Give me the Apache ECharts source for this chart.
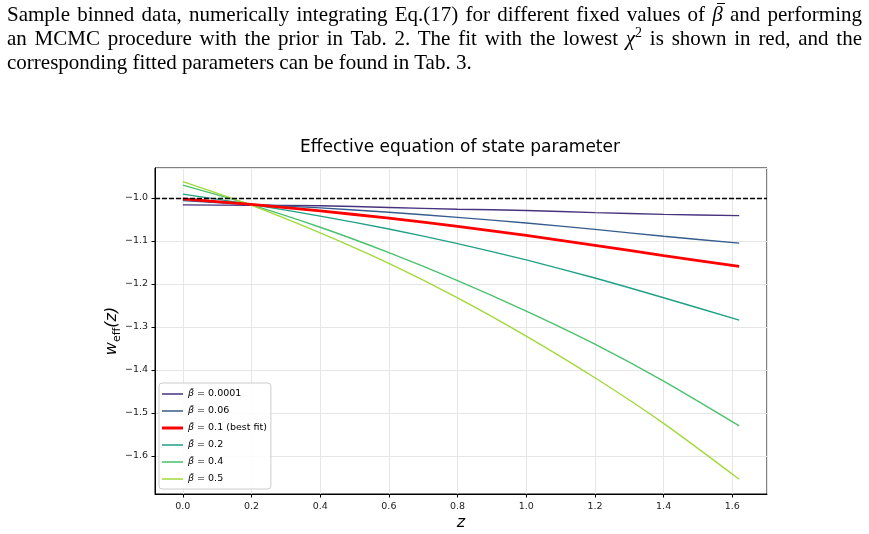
<!DOCTYPE html>
<html>
<head>
<meta charset="utf-8">
<script src="https://cdn.jsdelivr.net/npm/echarts@6/dist/echarts.min.js"></script>
<style>
  html, body { margin: 0; padding: 0; background: #fff; }
  #chart { position: absolute; left: 0; top: 0; width: 869px; height: 534px; }
  .cap {
    position: absolute; left: 7px; width: 855px;
    font-family: 'Liberation Serif', 'DejaVu Serif', serif;
    font-size: 21px; line-height: 24px; color: #000;
    text-align: justify; text-align-last: justify;
  }
  .cap.last { text-align-last: left; }
  .bb { position: relative; }
  .bb span { position: absolute; left: 5px; top: 1px; width: 8px; height: 1px; background: #000; }
</style>
</head>
<body>
<div id="chart"></div>
<div class="cap" style="top:2px">Sample binned data, numerically integrating Eq.(17) for different fixed values of <i class="bb">β<span></span></i> and performing</div>
<div class="cap" style="top:26px">an MCMC procedure with the prior in Tab. 2. The fit with the lowest <i>χ</i><sup style="font-size:14px;line-height:0">2</sup> is shown in red, and the</div>
<div class="cap last" style="top:50px">corresponding fitted parameters can be found in Tab. 3.</div>
<script>
// 数据 (z, w_eff)
var zVals = [0, 0.2, 0.4, 0.6, 0.8, 1.0, 1.2, 1.4, 1.62];
var betaLabels = ['0.0001', '0.06', '0.1 (best fit)', '0.2', '0.4', '0.5'];
var wBeta0001 = [-1.016, -1.017, -1.018, -1.022, -1.026, -1.029, -1.034, -1.038, -1.041];
var wBeta006 = [-1.006, -1.015, -1.023, -1.033, -1.045, -1.058, -1.073, -1.089, -1.105];
var wBeta01 = [-1.002, -1.015, -1.030, -1.047, -1.066, -1.087, -1.110, -1.134, -1.159];
var wBeta02 = [-0.991, -1.015, -1.042, -1.072, -1.106, -1.144, -1.186, -1.232, -1.284];
var wBeta04 = [-0.970, -1.016, -1.068, -1.127, -1.192, -1.263, -1.340, -1.426, -1.530];
var wBeta05 = [-0.962, -1.017, -1.081, -1.152, -1.232, -1.321, -1.418, -1.524, -1.654];
var wRef = -1.0;

var allW = [wBeta0001, wBeta006, wBeta01, wBeta02, wBeta04, wBeta05];
var colors = ['#46337e', '#365c8d', '#ff0000', '#1fa187', '#4ac16d', '#a0da39'];
var widths = [1.4, 1.4, 2.8, 1.4, 1.4, 1.4];

function pairs(ys) {
  return zVals.map(function (z, i) { return [z, ys[i]]; });
}

function tickFmt(v) {
  var r = Math.round(v * 10) / 10;
  if (Math.abs(v - r) > 1e-6) return '';
  return r.toFixed(1).replace('-', '\u2212');
}

// 图例线条图标 (细 / 粗)
var thinIcon = 'path://M0,0h0.001v10h-0.001z M0,4.3h21v1.4h-21z';
var thickIcon = 'path://M0,0h0.001v10h-0.001z M0,3.6h21v2.8h-21z';

var chart = echarts.init(document.getElementById('chart'));

var series = allW.map(function (ys, i) {
  return {
    name: 'β̄ = ' + betaLabels[i],
    type: 'line',
    data: pairs(ys),
    showSymbol: false,
    symbol: 'none',
    smooth: 0.25,
    z: i === 2 ? 4 : 3,
    lineStyle: { color: colors[i], width: widths[i] },
    itemStyle: { color: colors[i] }
  };
});
// 参考线 w = -1
series[5].markLine = {
  silent: true,
  symbol: 'none',
  label: { show: false },
  lineStyle: { color: '#000', width: 1.4, type: [5, 2] },
  data: [{ yAxis: wRef }]
};

var axisFont = { fontSize: 9.5, fontFamily: 'DejaVu Sans', color: '#222' };

var option = {
  animation: false,
  backgroundColor: '#fff',
  grid: {
    left: 155, right: 102, top: 168, bottom: 40,
    outerBoundsMode: 'none',
    containLabel: false,
    show: true, borderColor: '#000', borderWidth: 1
  },
  graphic: [{
    type: 'text',
    left: 300, top: 139,
    style: { text: 'Effective equation of state parameter', fontSize: 17, fontFamily: 'DejaVu Sans', fill: '#000' }
  }, {
    // x 轴标题
    type: 'text',
    x: 461, y: 523,
    style: { text: 'z', align: 'center', verticalAlign: 'middle', fontSize: 16, fontStyle: 'italic', fontFamily: 'DejaVu Sans', fill: '#000' }
  }, {
    // y 轴标题
    type: 'text',
    x: 112, y: 331,
    rotation: Math.PI / 2,
    style: {
      text: '{i|w}{s|eff}{i|(z)}',
      align: 'center', verticalAlign: 'middle',
      fill: '#000',
      rich: {
        i: { fontSize: 16, fontFamily: 'DejaVu Sans', fontStyle: 'italic', verticalAlign: 'middle', lineHeight: 22 },
        s: { fontSize: 11, fontFamily: 'DejaVu Sans', verticalAlign: 'bottom', lineHeight: 14 }
      }
    }
  }],
  legend: {
    orient: 'vertical',
    left: 159, top: 383,
    padding: [6, 4, 5, 3],
    itemWidth: 21, itemHeight: 10, itemGap: 7,
    borderColor: '#cccccc', borderWidth: 1, borderRadius: 3,
    backgroundColor: 'rgba(255,255,255,0.85)',
    selectedMode: false,
    formatter: function (name) {
      return '{b|β̄}{t|' + name.slice(2) + '}';
    },
    textStyle: {
      fontSize: 9.5, fontFamily: 'DejaVu Sans', color: '#000',
      rich: {
        b: { fontSize: 9.5, fontStyle: 'italic', fontFamily: 'DejaVu Sans' },
        t: { fontSize: 9.5, fontFamily: 'DejaVu Sans' }
      }
    },
    data: series.map(function (s, i) {
      return { name: s.name, icon: i === 2 ? thickIcon : thinIcon };
    })
  },
  xAxis: {
    type: 'value',
    min: -0.081, max: 1.701,
    splitNumber: 9,
    axisLine: { show: true, onZero: false, lineStyle: { color: '#000', width: 1 } },
    axisTick: { show: true, inside: false, length: 3.5, lineStyle: { color: '#000' } },
    axisLabel: Object.assign({ formatter: tickFmt, margin: 8, showMinLabel: false, showMaxLabel: false }, axisFont),
    splitLine: { show: true, lineStyle: { color: '#e6e6e6', width: 1 } }
  },
  yAxis: {
    type: 'value',
    min: -1.6884, max: -0.9302,
    splitNumber: 8,
    axisLine: { show: true, onZero: false, lineStyle: { color: '#000', width: 1 } },
    axisTick: { show: true, inside: false, length: 3.5, lineStyle: { color: '#000' } },
    axisLabel: Object.assign({ formatter: tickFmt, margin: 7, showMinLabel: false, showMaxLabel: false }, axisFont),
    splitLine: { show: true, lineStyle: { color: '#e6e6e6', width: 1 } }
  },
  series: series
};

chart.setOption(option);
</script>
</body>
</html>
